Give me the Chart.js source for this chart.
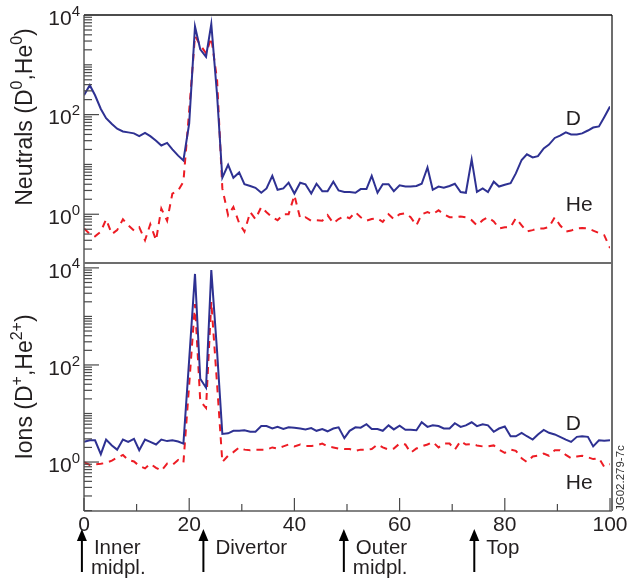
<!DOCTYPE html>
<html lang="en">
<head>
<meta charset="UTF-8">
<title>Neutral and ion densities along the separatrix</title>
<style>
    body {
        margin: 0;
        background-color: #ffffff;
    }
    #chart {
        display: block;
    }
</style>
</head>
<body>
<canvas id="chart" width="629" height="581"></canvas>
<script src="https://cdn.jsdelivr.net/npm/chart.js"></script>
<script>
// Poloidal position of each point (0 = inner midplane, 100 = end of the contour)
const xPos = [0, 1.1, 2.1, 3.2, 4.2, 5.3, 6.3, 7.4, 8.4, 9.5,
    10.5, 11.6, 12.6, 13.7, 14.7, 15.8, 16.8, 17.9, 18.9, 20.0,
    21.1, 22.1, 23.2, 24.2, 25.3, 26.3, 27.4, 28.4, 29.5, 30.5,
    31.6, 32.6, 33.7, 34.7, 35.8, 36.8, 37.9, 38.9, 40.0, 41.1,
    42.1, 43.2, 44.2, 45.3, 46.3, 47.4, 48.4, 49.5, 50.5, 51.6,
    52.6, 53.7, 54.7, 55.8, 56.8, 57.9, 58.9, 60.0, 61.1, 62.1,
    63.2, 64.2, 65.3, 66.3, 67.4, 68.4, 69.5, 70.5, 71.6, 72.6,
    73.7, 74.7, 75.8, 76.8, 77.9, 78.9, 80.0, 81.1, 82.1, 83.2,
    84.2, 85.3, 86.3, 87.4, 88.4, 89.5, 90.5, 91.6, 92.6, 93.7,
    94.7, 95.8, 96.8, 97.9, 98.9, 100];

// Neutrals (top panel)
const neutralD = [245, 390, 245, 130, 85, 65, 52, 46, 44, 42,
    37, 43, 37, 30, 24, 27, 20, 15, 12, 67,
    5900, 2050, 1450, 6600, 250, 5.4, 9.8, 5.4, 6.9, 4.0,
    3.7, 3.4, 2.7, 3.3, 5.9, 3.1, 3.3, 4.3, 2.6, 4.3,
    4.0, 2.6, 4.1, 2.9, 2.9, 4.5, 3.0, 2.8, 2.8, 2.7,
    3.2, 3.2, 5.9, 2.7, 4.0, 4.0, 2.9, 3.8, 3.6, 3.6,
    3.7, 4.1, 8.7, 3.1, 3.6, 3.4, 3.7, 4.1, 2.8, 2.7,
    12.6, 2.8, 3.3, 2.8, 4.5, 3.6, 3.9, 4.2, 6.6, 12.3,
    16, 13.8, 14.7, 21, 25, 34, 38, 44, 40, 40,
    42, 48, 55, 58, 89, 145];
const neutralHe = [0.52, 0.40, 0.36, 0.45, 0.79, 0.40, 0.48, 0.79, 0.60, 0.47,
    0.55, 0.30, 0.63, 0.30, 1.3, 0.74, 2.6, 3.0, 4.5, 120,
    3800, 2500, 1700, 3500, 500, 3.3, 0.95, 1.4, 0.66, 0.45,
    1.1, 0.8, 1.4, 1.1, 0.87, 0.76, 1.0, 1.0, 2.4, 0.83,
    0.87, 0.74, 0.76, 0.74, 0.96, 0.66, 0.8, 0.91, 0.83, 1.1,
    0.87, 0.74, 0.8, 0.83, 0.70, 1.0, 0.8, 1.0, 1.05, 0.87,
    0.6, 1.0, 1.1, 1.0, 1.2, 1.0, 0.87, 0.87, 0.9, 0.87,
    0.76, 0.6, 0.76, 0.87, 0.72, 0.52, 0.55, 0.55, 0.83, 0.6,
    0.45, 0.48, 0.52, 0.52, 0.55, 0.87, 0.6, 0.45, 0.47, 0.52,
    0.53, 0.52, 0.47, 0.42, 0.38, 0.21];

// Ions (bottom panel)
const ionD = [2.6, 2.8, 2.8, 1.45, 2.9, 2.2, 1.8, 2.9, 2.6, 3.0,
    1.75, 2.9, 2.6, 2.3, 2.9, 2.7, 2.8, 2.65, 2.4, 130,
    7500, 52, 34, 9000, 190, 3.8, 3.9, 4.4, 4.4, 4.5,
    4.2, 4.2, 5.5, 5.5, 4.9, 5.3, 4.8, 5.2, 5.1, 4.9,
    4.7, 5.0, 4.4, 4.8, 4.3, 4.9, 5.2, 3.1, 4.4, 5.2,
    5.1, 6.0, 4.8, 4.8, 4.4, 5.7, 4.7, 5.6, 4.6, 4.6,
    4.5, 6.6, 5.3, 5.7, 5.5, 4.9, 4.9, 6.3, 5.3, 5.7,
    6.6, 5.5, 6.0, 5.7, 4.2, 4.9, 5.4, 3.4, 3.4, 4.0,
    3.4, 2.9, 3.7, 4.6, 4.0, 3.7, 3.3, 2.9, 2.6, 3.3,
    3.4, 3.3, 2.1, 2.8, 2.75, 2.8];
const ionHe = [1.0, 0.87, 0.9, 0.92, 0.96, 1.07, 1.23, 1.4, 1.1, 1.03,
    0.83, 0.74, 0.92, 0.76, 0.66, 0.93, 0.87, 1.1, 0.96, 40,
    1800, 18, 13, 2000, 40, 1.0, 1.35, 1.6, 2.0, 1.8,
    1.75, 1.8, 1.8, 1.8, 2.0, 1.9, 2.1, 2.3, 2.1, 2.3,
    2.15, 2.15, 2.2, 2.4, 2.1, 2.0, 1.9, 1.85, 1.85, 1.7,
    1.8, 1.8, 1.85, 2.3, 2.0, 1.8, 1.9, 2.4, 2.3, 1.55,
    1.9, 2.1, 2.3, 2.6, 2.0, 2.4, 2.4, 1.8, 2.7, 2.3,
    2.35, 2.2, 2.1, 2.1, 2.2, 1.8, 1.55, 1.8, 1.7, 1.2,
    1.0, 1.3, 1.35, 1.5, 1.35, 1.75, 1.75, 1.4, 1.2, 1.3,
    1.35, 1.25, 1.15, 1.2, 0.8, 0.9];

// Axis labels
const xTickLabels = [0, 20, 40, 60, 80, 100];
const yTickExponents = [0, 2, 4];

// Locations marked with arrows under the x axis
const markerX = [-0.4, 22.7, 49.4, 74.2];
const markerText = [['Inner', 'midpl.'], ['Divertor'], ['Outer', 'midpl.'], ['Top']];

const NAVY = '#2e3192';
const RED = '#ed1c24';
const INK = '#231f20';
const FONT = "'Liberation Sans', Arial, Helvetica, sans-serif";

function points(values) {
    return values.map((v, i) => ({ x: xPos[i], y: v }));
}

// text with superscript runs: parts = [[text, isSuperscript], ...]
function drawRich(ctx, parts, x, y, size, align) {
    const supSize = Math.round(size * 0.7);
    let w = 0;
    parts.forEach(([t, sup]) => {
        ctx.font = (sup ? supSize : size) + 'px ' + FONT;
        w += ctx.measureText(t).width;
    });
    let cx = align === 'right' ? x - w : (align === 'center' ? x - w / 2 : x);
    ctx.textAlign = 'left';
    ctx.textBaseline = 'middle';
    parts.forEach(([t, sup]) => {
        ctx.font = (sup ? supSize : size) + 'px ' + FONT;
        ctx.fillText(t, cx, sup ? y - size * 0.36 : y);
        cx += ctx.measureText(t).width;
    });
}

function line(ctx, x1, y1, x2, y2) {
    ctx.beginPath();
    ctx.moveTo(x1, y1);
    ctx.lineTo(x2, y2);
    ctx.stroke();
}

const framePlugin = {
    id: 'frame',
    afterDraw(chart) {
        const ctx = chart.ctx;
        const xs = chart.scales.x;
        const panels = [chart.scales.yN, chart.scales.yI];
        const L = chart.chartArea.left;
        const R = chart.chartArea.right + 2;
        const T = chart.chartArea.top;
        const B = chart.chartArea.bottom;

        ctx.save();
        ctx.lineCap = 'butt';

        // frame
        ctx.strokeStyle = '#5a5a5a';
        ctx.lineWidth = 1.5;
        line(ctx, L, T, L, B);
        line(ctx, L, B, R, B);
        ctx.lineWidth = 2;
        ctx.strokeStyle = '#6d6d6d';
        line(ctx, L, panels[0].bottom, R, panels[0].bottom);
        line(ctx, R, T, R, B);
        ctx.strokeStyle = '#111';
        ctx.lineWidth = 1.5;
        line(ctx, L, T, R, T);

        // log ticks pointing into each panel
        ctx.strokeStyle = '#4a4a4a';
        ctx.lineWidth = 1.2;
        panels.forEach(s => {
            const k0 = Math.floor(Math.log10(s.min));
            const k1 = Math.ceil(Math.log10(s.max));
            for (let k = k0; k <= k1; k++) {
                for (let m = 1; m <= 9; m++) {
                    const v = m * Math.pow(10, k);
                    if (v < s.min || v > s.max) continue;
                    const py = s.getPixelForValue(v);
                    const len = (m === 1 && k % 2 === 0) ? 15 : 8;
                    line(ctx, L, py, L + len, py);
                }
            }
        });

        // x ticks
        for (let v = 0; v <= 100; v += 10) {
            const px = xs.getPixelForValue(v);
            const len = v % 20 === 0 ? 13 : 7;
            line(ctx, px, B, px, B - len);
        }

        ctx.fillStyle = INK;

        // y tick labels
        panels.forEach(s => {
            yTickExponents.forEach(e => {
                const py = s.getPixelForValue(Math.pow(10, e));
                drawRich(ctx, [['10', false], [String(e), true]], 80, py + 4, 21, 'right');
            });
        });

        // x tick labels
        ctx.font = '21px ' + FONT;
        ctx.textAlign = 'center';
        ctx.textBaseline = 'middle';
        xTickLabels.forEach(v => {
            ctx.fillText(String(v), xs.getPixelForValue(v), B + 14);
        });

        // axis titles
        const titles = [
            [['Neutrals (D', false], ['0', true], [',He', false], ['0', true], [')', false]],
            [['Ions (D', false], ['+', true], [',He', false], ['2+', true], [')', false]]
        ];
        const titleShift = [-22, 0];
        panels.forEach((s, i) => {
            ctx.save();
            ctx.translate(26, (s.top + s.bottom) / 2 + titleShift[i]);
            ctx.rotate(-Math.PI / 2);
            drawRich(ctx, titles[i], 0, 0, 23, 'center');
            ctx.restore();
        });

        // series labels
        const lx = xs.getPixelForValue(91.6);
        ctx.font = '21px ' + FONT;
        ctx.textAlign = 'left';
        ctx.textBaseline = 'middle';
        ctx.fillText('D', lx, panels[0].getPixelForValue(81));
        ctx.fillText('He', lx, panels[0].getPixelForValue(1.5));
        ctx.fillText('D', lx, panels[1].getPixelForValue(6.0));
        ctx.fillText('He', lx, panels[1].getPixelForValue(0.36));

        // location arrows
        ctx.strokeStyle = '#000';
        ctx.fillStyle = '#000';
        ctx.lineWidth = 2;
        markerX.forEach((v, i) => {
            const px = xs.getPixelForValue(v);
            line(ctx, px, B + 61, px, B + 27);
            ctx.beginPath();
            ctx.moveTo(px, B + 18);
            ctx.lineTo(px - 5, B + 30);
            ctx.lineTo(px + 5, B + 30);
            ctx.closePath();
            ctx.fill();
            ctx.font = '20.5px ' + FONT;
            ctx.textAlign = 'left';
            ctx.textBaseline = 'middle';
            ctx.fillStyle = INK;
            ctx.fillText(markerText[i][0], px + 12, B + 37);
            if (markerText[i][1]) {
                ctx.fillText(markerText[i][1], px + 9, B + 57);
            }
            ctx.fillStyle = '#000';
        });

        // figure reference
        ctx.save();
        ctx.translate(R + 9, B);
        ctx.rotate(-Math.PI / 2);
        ctx.font = '11.5px ' + FONT;
        ctx.fillStyle = '#333';
        ctx.textAlign = 'left';
        ctx.textBaseline = 'middle';
        ctx.fillText('JG02.279-7c', 0, 0);
        ctx.restore();

        ctx.restore();
    }
};

function panelAxis(min, max, weight) {
    return {
        type: 'logarithmic',
        min: min,
        max: max,
        position: 'left',
        stack: 'panels',
        stackWeight: 1,
        weight: weight,
        ticks: { display: false },
        grid: { display: false },
        border: { display: false },
        afterFit: s => { s.width = 0; }
    };
}

new Chart(document.getElementById('chart').getContext('2d'), {
    type: 'line',
    data: {
        datasets: [
            { label: 'D0', data: points(neutralD), yAxisID: 'yN', borderColor: NAVY, borderWidth: 2 },
            { label: 'He0', data: points(neutralHe), yAxisID: 'yN', borderColor: RED, borderWidth: 2, borderDash: [7, 6] },
            { label: 'D+', data: points(ionD), yAxisID: 'yI', borderColor: NAVY, borderWidth: 2 },
            { label: 'He2+', data: points(ionHe), yAxisID: 'yI', borderColor: RED, borderWidth: 2, borderDash: [7, 6] }
        ]
    },
    options: {
        responsive: false,
        animation: false,
        layout: { padding: { left: 84, right: 19, top: 15, bottom: 70 } },
        elements: {
            point: { radius: 0 },
            line: { tension: 0, fill: false }
        },
        plugins: {
            legend: { display: false },
            tooltip: { enabled: false }
        },
        scales: {
            x: { type: 'linear', min: 0, max: 100, display: false },
            yN: panelAxis(0.105, 10000, 1),
            yI: panelAxis(0.098, 12600, 0)
        }
    },
    plugins: [framePlugin]
});
</script>
</body>
</html>
